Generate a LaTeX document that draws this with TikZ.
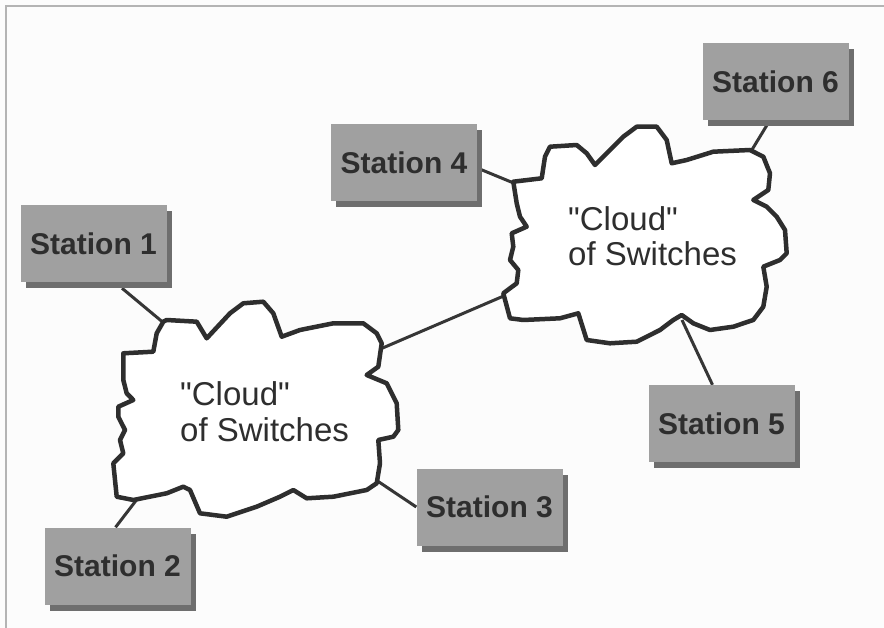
\documentclass[tikz,border=0pt]{standalone}
\usepackage{fontspec}
\setmainfont{Liberation Sans}
\newfontfamily\cloudfont{Liberation Sans}[Ligatures=TeXOff]
\usetikzlibrary{shadows,calc}
\definecolor{boxgray}{HTML}{A0A0A0}
\definecolor{shadowgray}{HTML}{6E6E6E}
\definecolor{inkgray}{HTML}{2E2E2E}
\definecolor{linegray}{HTML}{363636}
\definecolor{framegray}{HTML}{B4B4B4}
\definecolor{papergray}{HTML}{FCFCFC}
\pgfdeclarelayer{paper}
\pgfdeclarelayer{bg}
\pgfsetlayers{paper,bg,main}
\tikzset{
  stationbox/.style={fill=boxgray, minimum width=146pt, minimum height=77pt, inner sep=0pt,
    text=inkgray, font=\fontsize{30}{34}\selectfont\bfseries,
    general shadow={fill=shadowgray, shadow xshift=5pt, shadow yshift=-6pt}},
  cloudline/.style={draw=inkgray, line width=4.5pt, fill=white, line join=round},
  cloudtext/.style={anchor=base west, inner sep=0pt, text=inkgray, font=\cloudfont\fontsize{33}{36}\selectfont},
  link/.style={draw=linegray, line width=3pt}
}
\begin{document}
\begin{tikzpicture}[x=1pt,y=-1pt]
\useasboundingbox (0,0) rectangle (884,628);
\begin{pgfonlayer}{paper}
\fill[papergray] (0,0) rectangle (884,628);
\draw[framegray, line width=1.5pt] (884,6) -- (6,6) -- (6,628);
\end{pgfonlayer}

% cloud 1
\draw[cloudline] (163.3,321.7) -- (166.7,320) -- (196.7,321.7) -- (206.7,338.3) -- (230,313.3)
 -- (243.3,303.3) -- (263.3,301.7) -- (273.3,313.3) -- (281.7,336.7) -- (300,330)
 -- (333.3,323.3) -- (363.3,323.3) -- (376.7,333.3) -- (381.7,343.3) -- (378.3,366.7)
 -- (366.7,375) -- (386.7,383.3) -- (396.7,403.3) -- (398.3,430) -- (393.3,436.7)
 -- (378.3,440) -- (380,463.3) -- (376.7,483.3) -- (366.7,490) -- (333.3,496.7)
 -- (306.7,498.3) -- (293.3,490) -- (280,496.7) -- (256.7,506.7) -- (226.7,516.7)
 -- (200,513.3) -- (190,490) -- (183.3,486.7) -- (166.7,493.3) -- (133.3,500)
 -- (116.7,496.7) -- (113.3,463.3) -- (123.3,453.3) -- (120,440) -- (125,430)
 -- (118.3,416.7) -- (118.3,406.7) -- (133.3,400) -- (126.7,393.3) -- (123.3,380)
 -- (123.3,353.3) -- (153.3,351.7) -- (156.7,333.3) -- cycle;
% cloud 2
\draw[cloudline] (513.3,181.7) -- (541.7,178.3) -- (545,156.7) -- (550,146.7) -- (576.7,145)
 -- (586.7,153.3) -- (595,165) -- (606.7,153.3) -- (623.3,136.7) -- (636.7,126.7)
 -- (656.7,126.7) -- (666.7,140) -- (671.7,163.3) -- (686.7,160) -- (713.3,151.7)
 -- (750,150) -- (763.3,156.7) -- (770,173.3) -- (768.3,190) -- (753.3,200)
 -- (766.7,206.7) -- (776.7,216.7) -- (785,230) -- (786.7,253.3) -- (780,260)
 -- (763.3,266.7) -- (766.7,286.7) -- (763.3,306.7) -- (753.3,320) -- (733.3,326.7)
 -- (710,330) -- (693.3,323.3) -- (681.7,315) -- (673.3,320) -- (660,330)
 -- (636.7,341.7) -- (610,343.3) -- (586.7,340) -- (578.3,313.3) -- (560,318.3)
 -- (523.3,320) -- (510,318.3) -- (503.3,293.3) -- (516.7,283.3) -- (518.3,270)
 -- (510,260) -- (513.3,246.7) -- (511.7,233.3) -- (526.7,226.7) -- (520,216.7)
 -- (516.7,203.3) -- cycle;

\node[cloudtext] (t1a) at (180,406) {"Cloud"};
\node[cloudtext] (t1b) at (180,441) {of Switches};
\node[cloudtext] (t2a) at (568,231) {"Cloud"};
\node[cloudtext] (t2b) at (568,266) {of Switches};

% connection points on the clouds
\coordinate (c1n) at (165,324);
\coordinate (c1sw) at (138,498);
\coordinate (c1se) at (376,480);
\coordinate (c1e) at (378,350);
\coordinate (c2w) at (506,295);
\coordinate (c2nw) at (516,184);
\coordinate (c2ne) at (750,153);
\coordinate (c2s) at (682,320);

% stations
\node[stationbox] (s1) at (93.5,243.5) {Station 1};
\node[stationbox] (s2) at (117.5,566) {Station 2};
\node[stationbox] (s3) at (489.5,507) {Station 3};
\node[stationbox] (s4) at (404,163) {Station 4};
\node[stationbox] (s5) at (721.5,423.5) {Station 5};
\node[stationbox] (s6) at (775.5,81.5) {Station 6};

\begin{pgfonlayer}{bg}
\draw[link] ($(s1.south)+(28.5,6)$) -- (c1n);
\draw[link] ($(s2.north)+(-2,0)$) -- (c1sw);
\draw[link] (s3.west) -- (c1se);
\draw[link] ($(s4.east)+(0,5)$) -- (c2nw);
\draw[link] ($(s5.north)+(-9,0)$) -- (c2s);
\draw[link] ($(s6.south)+(-8,4)$) -- (c2ne);
\draw[link] (c1e) -- (c2w);
\end{pgfonlayer}
\end{tikzpicture}
\end{document}
